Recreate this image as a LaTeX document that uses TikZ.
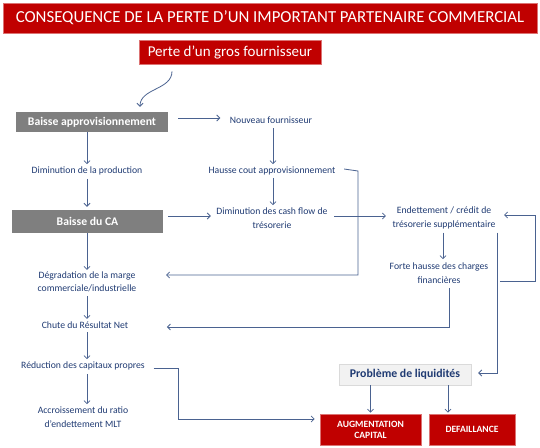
\documentclass[tikz,border=0pt]{standalone}
\usepackage{fontspec}
\setmainfont{Carlito}
\usetikzlibrary{arrows.meta,calc}
\definecolor{cred}{HTML}{C00000}
\definecolor{cgray}{HTML}{7F7F7F}
\definecolor{ctext}{HTML}{1F3A72}
\definecolor{cline}{HTML}{4A6290}
\definecolor{clight}{HTML}{F2F2F2}
\begin{document}
\begin{tikzpicture}[x=1pt,y=-1pt,
  lbl/.style={text=ctext, font=\fontsize{9.7}{13.5}\selectfont, align=center, inner sep=1.5pt},
  redbox/.style={fill=cred, draw=cred!55!white, line width=0.6pt, text=white, align=center, inner sep=1pt},
  graybox/.style={fill=cgray, text=white, font=\bfseries\fontsize{11.7}{13}\selectfont, inner sep=1pt},
  lightbox/.style={fill=clight, draw=clight!90!black, line width=0.4pt, text=ctext, font=\bfseries\fontsize{11.8}{13}\selectfont, inner sep=1pt},
  conn/.style={draw=cline, line width=0.8pt, -{Straight Barb[length=3pt,width=6pt]}},
  ]
\useasboundingbox (0,0) rectangle (540,447);
\node[redbox, minimum width=534, minimum height=30, font=\fontsize{16.8}{18}\selectfont] (title) at (270,18) {CONSEQUENCE DE LA PERTE D’UN IMPORTANT PARTENAIRE COMMERCIAL};
\node[redbox, minimum width=182, minimum height=24, font=\fontsize{15}{17}\selectfont] (perte) at (230,52) {Perte d’un gros fournisseur};
\node[graybox, minimum width=152, minimum height=20] (appro) at (92,122) {Baisse approvisionnement};
\node[graybox, minimum width=151, minimum height=23] (ca) at (87.5,221.5) {Baisse du CA};
\node[lbl] (nouv) at (271,120) {Nouveau fournisseur};
\node[lbl] (hausse) at (272,171) {Hausse cout approvisionnement};
\node[lbl] (cash) at (272,218) {Diminution des cash flow de\\trésorerie};
\node[lbl] (endet) at (444,218) {Endettement / crédit de\\trésorerie supplémentaire};
\node[lbl] (dprod) at (87,171) {Diminution de la production};
\node[lbl] (degr) at (87,282) {Dégradation de la marge\\commerciale/industrielle};
\node[lbl] (chute) at (85,325) {Chute du Résultat Net};
\node[lbl] (forte) at (439,273) {Forte hausse des charges\\financières};
\node[lbl] (reduc) at (83,366) {Réduction des capitaux propres};
\node[lbl] (accr) at (83,417) {Accroissement du ratio\\d’endettement MLT};
\node[lightbox, minimum width=132, minimum height=21] (liq) at (405,374.5) {Problème de liquidités};
\node[redbox, minimum width=101, minimum height=31, font=\bfseries\fontsize{9.6}{11}\selectfont] (aug) at (370.5,429.5) {AUGMENTATION\\CAPITAL};
\node[redbox, minimum width=86, minimum height=31, font=\bfseries\fontsize{9.6}{11}\selectfont] (def) at (472,429.5) {DEFAILLANCE};
\coordinate (loopR) at (535,215);
\coordinate (cornerH) at (358,171);
\coordinate (cornerR) at (178,419);

% curved arrow
\draw[conn] ($(perte.south)+(-58,7)$) to[out=-90,in=90] ($(appro.north)+(48,-5)$);
% left column
\draw[conn] (appro.south -| dprod.north) -- ($(dprod.north)+(0,-1)$);
\draw[conn] ($(dprod.south)+(0,2)$) -- ($(ca.north -| dprod.north)+(0,-3)$);
\draw[conn] (ca.south -| degr.north) -- (degr.north);
\draw[conn] ($(degr.south)+(0,2)$) -- ($(chute.north -| degr.north)+(0,-1)$);
\draw[conn] ($(chute.south -| degr.north)+(0,2)$) -- ($(reduc.north -| degr.north)+(0,-1)$);
\draw[conn] ($(reduc.south -| degr.north)+(0,2)$) -- ($(accr.north -| degr.north)+(0,-1)$);
% middle
\draw[conn] ($(appro.east)+(10,-4)$) -- ($(nouv.west)+(-8,-2)$);
\draw[conn] ($(nouv.south)+(2,3)$) -- ($(hausse.north -| nouv.south)+(2,-1)$);
\draw[conn] ($(hausse.south)+(1,1)$) -- ($(cash.north)+(1,-1)$);
\draw[conn] ($(ca.east)+(5,-5.5)$) -- ($(cash.west)+(-4,-2)$);
\draw[conn] ($(cash.east)+(5,-2)$) -- ($(endet.west)+(-5,-2)$);
\draw[conn] ($(hausse.east)+(7,-2)$) -- (cornerH |- hausse.east) -- (cornerH |- 0,275) -- ($(degr.east |- 0,275)+(28,0)$);
% right
\draw[conn] ($(endet.south)+(-1,2)$) -- ($(forte.north -| endet.south)+(-1,-2)$);
\draw[conn] ($(forte.east)+(10,8)$) -| (loopR) -- ($(endet.east |- loopR)+(7,0)$);
\draw[conn] ($(forte.south)+(10,3)$) |- ($(chute.east)+(37,2)$);
\draw[conn] ($(endet.south)+(53,2)$) |- ($(liq.east)+(7,-1.5)$);
\draw[conn] ($(reduc.east)+(7,2)$) -| (cornerR) -- ($(aug.west |- cornerR)+(-5,0)$);
\draw[conn] (liq.south -| aug.north) -- ($(aug.north)+(0,-1)$);
\draw[conn] (liq.south -| 448,0) -- ($(def.north -| 448,0)+(0,-1)$);
\end{tikzpicture}
\end{document}
